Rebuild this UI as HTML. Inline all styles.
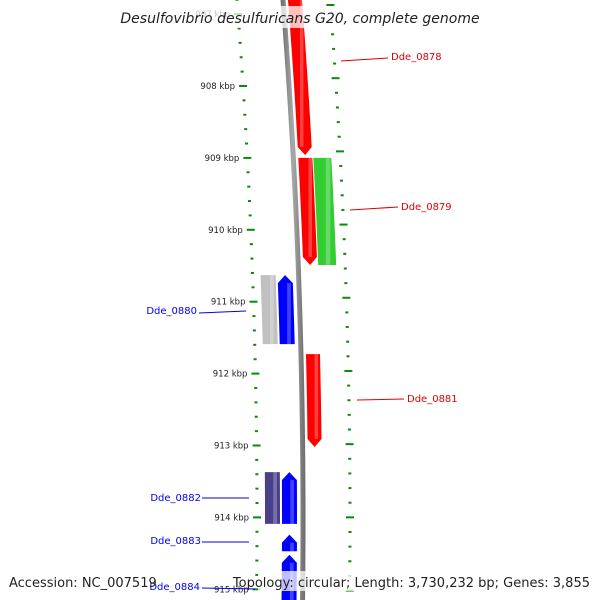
<!DOCTYPE html>
<html><head><meta charset="utf-8"><style>
body{margin:0;background:#fff;}
svg{display:block;font-family:"DejaVu Sans","Liberation Sans",sans-serif;}
</style></head><body>
<svg id="map" width="600" height="600" viewBox="0 0 600 600" xmlns="http://www.w3.org/2000/svg">
<defs>
<linearGradient id="gBack" x1="0" x2="1"><stop offset="0" stop-color="#6a6a6a"/><stop offset="0.5" stop-color="#a8a8a8"/><stop offset="1" stop-color="#6a6a6a"/></linearGradient>
</defs>
<g id="layer"></g>
</svg>
<script>
// data (kbp)
const geneNames = ["Dde_0878","Dde_0879","cds_0879b","Dde_0880","cds_0880b","Dde_0881","Dde_0882","cds_0882b","Dde_0883","Dde_0884"];
const geneStart = [906.4, 909.0, 909.0, 910.63, 910.63, 911.73, 913.37, 913.37, 914.24, 914.52];
const geneEnd   = [908.96, 910.49, 910.49, 911.59, 911.59, 913.02, 914.09, 914.09, 914.47, 915.4];
const geneStrand= [1, 1, 0, -1, 0, 1, -1, 0, -1, -1];
const geneTrack = ["fwd","fwd","fwd2","rev","rev2","fwd","rev","rev2","rev","rev"];
const geneColor = ["#ff0000","#ff0000","#33cc33","#0000ff","#c0c0c0","#ff0000","#0000ff","#4a3f8a","#0000ff","#0000ff"];
const majorTicks = [907,908,909,910,911,912,913,914,915];
const tickLabels = ["907 kbp","908 kbp","909 kbp","910 kbp","911 kbp","912 kbp","913 kbp","914 kbp","915 kbp"];

const NS="http://www.w3.org/2000/svg";
const layer=document.getElementById('layer');
function yOf(k){return 86+(k-908)*71.9;}
function xBack(y){return 303-(y-520)*(y-520)/13520;}
const trackOff={fwd:[5,19],fwd2:[20,38],rev:[-21,-6],rev2:[-38,-23]};
function el(tag,attrs,parent){const e=document.createElementNS(NS,tag);for(const k in attrs)e.setAttribute(k,attrs[k]);(parent||layer).appendChild(e);return e;}

// backbone
let pts=[];for(let y=-5;y<=605;y+=10)pts.push((xBack(y)-2.5)+","+y);
for(let y=605;y>=-5;y-=10)pts.push((xBack(y)+2.5)+","+y);
const bb=el('polygon',{points:pts.join(' '),fill:'url(#gBack)'});



// ticks
for(let k=906.8;k<=915.3;k+=0.2){
  const kk=Math.round(k*10)/10;
  const maj=Math.abs(kk-Math.round(kk))<0.01;
  const y=yOf(kk);
  const xl=xBack(y)-46, len=maj?8:3;
  const t=el('rect',{x:xl-len/2,y:y-1,width:len,height:2,fill:'#0a8a0a'});
  
  
  const yr=y-(520-y)*0.018;
  const xr=xBack(yr)+47;
  const t2=el('rect',{x:xr-len/2,y:yr-1,width:len,height:2,fill:'#0a8a0a'});
  
  
}
majorTicks.forEach((k,i)=>{
  const y=yOf(k);
  const tx=el('text',{x:xBack(y)-54,y:y+3,'font-size':'8.5','text-anchor':'end',fill:'#222'});
  tx.textContent=tickLabels[i];
  
  
});

// genes
geneNames.forEach((n,i)=>{
  const y0=yOf(geneStart[i]),y1=yOf(geneEnd[i]);
  const [a,b]=trackOff[geneTrack[i]];
  const s=geneStrand[i];const head=8;
  let L=[],R=[];
  const top=s<0?y0+head:y0, bot=s>0?y1-head:y1;
  for(let y=top;y<=bot;y+=4){L.push([xBack(y)+a,y]);R.push([xBack(y)+b,y]);}
  L.push([xBack(bot)+a,bot]);R.push([xBack(bot)+b,bot]);
  let poly=[];
  if(s<0)poly.push([xBack(y0)+(a+b)/2,y0]);
  poly=poly.concat(R);
  if(s>0)poly.push([xBack(y1)+(a+b)/2,y1]);
  poly=poly.concat(L.reverse());
  const g=el('polygon',{points:poly.map(p=>p.join(',')).join(' '),fill:geneColor[i]});
  
  
  const hl=el('rect',{x:xBack((top+bot)/2)+a+(b-a)*0.55,y:top,width:(b-a)*0.25,height:bot-top,fill:'#fff',opacity:0.25});
  
  
});

// labels
const labs=[["Dde_0878",391,60,341,61,388,58,"#e00000","start"],["Dde_0879",401,210,350,210,398,207,"#e00000","start"],
["Dde_0881",407,402,357,400,404,399,"#e00000","start"],["Dde_0880",197,314,199,313,246,311,"#0000ee","end"],
["Dde_0882",201,501,202,498,249,498,"#0000ee","end"],["Dde_0883",201,544,202,542,249,542,"#0000ee","end"],
["Dde_0884",200,590,202,588,255,589,"#0000ee","end"]];
labs.forEach(l=>{
  const ln=el('line',{x1:l[3],y1:l[4],x2:l[5],y2:l[6],stroke:l[7],'stroke-width':1});
  
  
  const t=el('text',{x:l[1],y:l[2],'font-size':'10','text-anchor':l[8],fill:l[7]});
  t.textContent=l[0];
  
  
});

// title and footer
const tb=el('rect',{x:122,y:6,width:356,height:22,fill:'#fff',opacity:0.75});


const title=el('text',{x:300,y:23,'font-size':'14','font-style':'italic','text-anchor':'middle',fill:'#222'});
title.textContent="Desulfovibrio desulfuricans G20, complete genome";


const fb=el('rect',{x:258,y:571,width:336,height:20,fill:'#fff',opacity:0.75});


const acc=el('text',{x:9,y:587,'font-size':'13',fill:'#222'});
acc.textContent="Accession: NC_007519";


const topo=el('text',{x:590,y:587,'font-size':'13','text-anchor':'end',fill:'#222'});
topo.textContent="Topology: circular; Length: 3,730,232 bp; Genes: 3,855";


</script>
</body></html>
